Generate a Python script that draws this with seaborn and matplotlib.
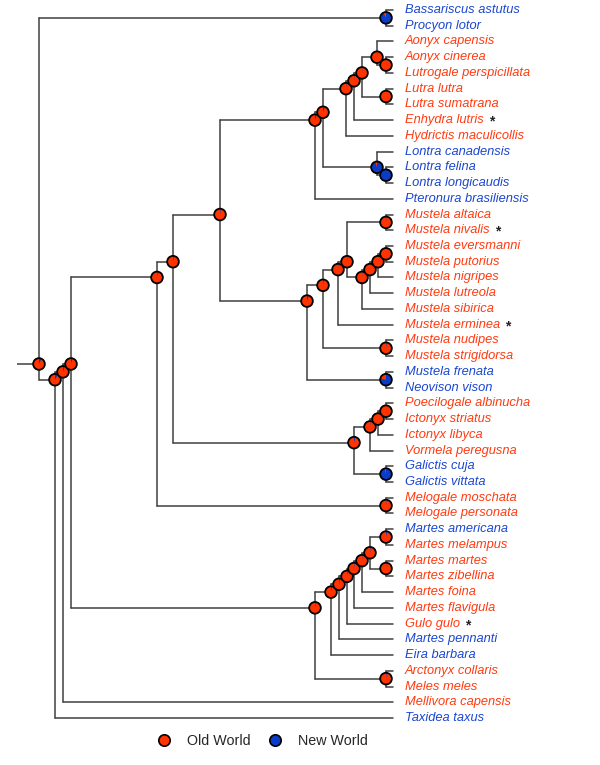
import matplotlib
matplotlib.use("Agg")
import matplotlib.pyplot as plt
import matplotlib.transforms as mtransforms
from matplotlib.patches import Circle, Wedge
from matplotlib.lines import Line2D
import seaborn as sns

sns.set_theme(style="white")
plt.rcParams["font.family"] = ["Liberation Sans", "DejaVu Sans"]

# tips, top to bottom
tips = [
    "Bassariscus astutus", "Procyon lotor", "Aonyx capensis", "Aonyx cinerea",
    "Lutrogale perspicillata", "Lutra lutra", "Lutra sumatrana", "Enhydra lutris",
    "Hydrictis maculicollis", "Lontra canadensis", "Lontra felina",
    "Lontra longicaudis", "Pteronura brasiliensis", "Mustela altaica",
    "Mustela nivalis", "Mustela eversmanni", "Mustela putorius", "Mustela nigripes",
    "Mustela lutreola", "Mustela sibirica", "Mustela erminea", "Mustela nudipes",
    "Mustela strigidorsa", "Mustela frenata", "Neovison vison",
    "Poecilogale albinucha", "Ictonyx striatus", "Ictonyx libyca",
    "Vormela peregusna", "Galictis cuja", "Galictis vittata", "Melogale moschata",
    "Melogale personata", "Martes americana", "Martes melampus", "Martes martes",
    "Martes zibellina", "Martes foina", "Martes flavigula", "Gulo gulo",
    "Martes pennanti", "Eira barbara", "Arctonyx collaris", "Meles meles",
    "Mellivora capensis", "Taxidea taxus",
]
tip_region = [
    "NW", "NW", "OW", "OW", "OW", "OW", "OW", "OW", "OW", "NW", "NW", "NW", "NW",
    "OW", "OW", "OW", "OW", "OW", "OW", "OW", "OW", "OW", "OW", "NW", "NW",
    "OW", "OW", "OW", "OW", "NW", "NW", "OW", "OW", "NW", "OW", "OW", "OW", "OW",
    "OW", "OW", "NW", "NW", "OW", "OW", "OW", "NW",
]
starred = ["Enhydra lutris", "Mustela nivalis", "Mustela erminea", "Gulo gulo"]

tip_depth = 393
root_stub = 17

# internal nodes: name, depth, children, share of New World at node
nodes = [
    ("root", 39, ["procyonid", "mustelid"], 0.07),
    ("procyonid", 386, ["Bassariscus astutus", "Procyon lotor"], 0.92),
    ("mustelid", 55, ["n63", "Taxidea taxus"], 0.08),
    ("n63", 63, ["n71", "Mellivora capensis"], 0.05),
    ("n71", 71, ["n157", "guloninae"], 0.04),
    ("n157", 157, ["n173", "melogale"], 0.02),
    ("n173", 173, ["n220", "ictonychinae"], 0.03),
    ("n220", 220, ["lutrinae", "mustela"], 0.02),
    ("lutrinae", 315, ["n323", "Pteronura brasiliensis"], 0.05),
    ("n323", 323, ["n346", "lontra"], 0.05),
    ("n346", 346, ["n354", "Hydrictis maculicollis"], 0.01),
    ("n354", 354, ["n362", "Enhydra lutris"], 0.01),
    ("n362", 362, ["n377", "lutra"], 0.01),
    ("n377", 377, ["Aonyx capensis", "aonyx"], 0.01),
    ("aonyx", 386, ["Aonyx cinerea", "Lutrogale perspicillata"], 0.0),
    ("lutra", 386, ["Lutra lutra", "Lutra sumatrana"], 0.0),
    ("lontra", 377, ["Lontra canadensis", "lontra2"], 0.95),
    ("lontra2", 386, ["Lontra felina", "Lontra longicaudis"], 1.0),
    ("mustela", 307, ["m323", "frenata"], 0.05),
    ("m323", 323, ["m338", "nudipes"], 0.02),
    ("m338", 338, ["m347", "Mustela erminea"], 0.01),
    ("m347", 347, ["altaica", "m362"], 0.01),
    ("altaica", 386, ["Mustela altaica", "Mustela nivalis"], 0.01),
    ("m362", 362, ["m370", "Mustela sibirica"], 0.01),
    ("m370", 370, ["m378", "Mustela lutreola"], 0.0),
    ("m378", 378, ["m386", "Mustela nigripes"], 0.0),
    ("m386", 386, ["Mustela eversmanni", "Mustela putorius"], 0.0),
    ("nudipes", 386, ["Mustela nudipes", "Mustela strigidorsa"], 0.02),
    ("frenata", 386, ["Mustela frenata", "Neovison vison"], 0.78),
    ("ictonychinae", 354, ["i370", "galictis"], 0.04),
    ("i370", 370, ["i378", "Vormela peregusna"], 0.01),
    ("i378", 378, ["i386", "Ictonyx libyca"], 0.0),
    ("i386", 386, ["Poecilogale albinucha", "Ictonyx striatus"], 0.0),
    ("galictis", 386, ["Galictis cuja", "Galictis vittata"], 0.96),
    ("melogale", 386, ["Melogale moschata", "Melogale personata"], 0.01),
    ("guloninae", 315, ["g331", "melinae"], 0.02),
    ("g331", 331, ["g339", "Eira barbara"], 0.03),
    ("g339", 339, ["g347", "Martes pennanti"], 0.03),
    ("g347", 347, ["g354", "Gulo gulo"], 0.02),
    ("g354", 354, ["g362", "Martes flavigula"], 0.02),
    ("g362", 362, ["g370", "Martes foina"], 0.01),
    ("g370", 370, ["martes_a", "martes_b"], 0.02),
    ("martes_a", 386, ["Martes americana", "Martes melampus"], 0.03),
    ("martes_b", 386, ["Martes martes", "Martes zibellina"], 0.01),
    ("melinae", 386, ["Arctonyx collaris", "Meles meles"], 0.02),
]

old_red = "#ff3300"
new_blue = "#0a3cc8"
text_red = "#ff3a10"
text_blue = "#1a46d0"
region_pal = sns.color_palette([old_red, new_blue])

# layout: x from depth, y = mean index of descendant tips
node_info = {n[0]: n for n in nodes}
pos = {}
for i, t in enumerate(tips):
    pos[t] = (tip_depth, i)


def tip_indices(name):
    if name not in node_info:
        return [pos[name][1]]
    out = []
    for c in node_info[name][2]:
        out += tip_indices(c)
    return out


for name, depth, children, share in nodes:
    idx = tip_indices(name)
    pos[name] = (depth, sum(idx) / len(idx))

fig = plt.figure(figsize=(6, 7.65), dpi=100)
ax = fig.add_axes([0, 0, 1, 1])
ax.set_xlim(0, 600)
ax.set_ylim((765 - 10) / 15.733, -10 / 15.733)
ax.axis("off")

lc = "#404040"
lw = 1.1

# branches
rx, ry = pos["root"]
ax.plot([root_stub, rx], [ry, ry], color=lc, lw=lw, solid_capstyle="butt", zorder=1)
for name, depth, children, share in nodes:
    x, y = pos[name]
    cys = [pos[c][1] for c in children]
    ax.plot([x, x], [min(cys), max(cys)], color=lc, lw=lw, zorder=1)
    for c in children:
        cx, cy = pos[c]
        ax.plot([x, cx], [cy, cy], color=lc, lw=lw, zorder=1)

# pies at nodes, in points around the data position
r_pt = 4.2
z = 2
for name, depth, children, share in nodes:
    x, y = pos[name]
    trans = mtransforms.Affine2D().scale(fig.dpi / 72.0) + \
        mtransforms.ScaledTranslation(x, y, ax.transData)
    ax.add_artist(Circle((0, 0), r_pt, facecolor=region_pal[1], edgecolor="none",
                         transform=trans, zorder=z))
    red = 1 - share
    if red >= 1:
        ax.add_artist(Circle((0, 0), r_pt, facecolor=region_pal[0],
                             edgecolor="none", transform=trans, zorder=z + 0.1))
    elif red > 0:
        ax.add_artist(Wedge((0, 0), r_pt, 90, 90 + 360 * red,
                            facecolor=region_pal[0], edgecolor="none",
                            transform=trans, zorder=z + 0.1))
    ax.add_artist(Circle((0, 0), r_pt, facecolor="none", edgecolor="black",
                         lw=1.3, transform=trans, zorder=z + 0.2))
    z += 1

# tip labels
labels = []
for i, t in enumerate(tips):
    col = text_red if tip_region[i] == "OW" else text_blue
    txt = ax.text(tip_depth + 12, i, t, fontsize=9.3, style="italic", color=col,
                  va="center", ha="left")
    labels.append(txt)

fig.canvas.draw()
renderer = fig.canvas.get_renderer()
inv = ax.transData.inverted()
for txt in labels:
    if txt.get_text() in starred:
        bb = txt.get_window_extent(renderer)
        x_end = inv.transform((bb.x1, bb.y0))[0]
        ax.text(x_end + 5, txt.get_position()[1] + 0.1, "*", fontsize=10,
                fontweight="bold", color="#222222", va="center", ha="left")

handles = [
    Line2D([], [], ls="none", marker="o", markersize=8.2, markerfacecolor=region_pal[0],
           markeredgecolor="black", markeredgewidth=1.2),
    Line2D([], [], ls="none", marker="o", markersize=8.2, markerfacecolor=region_pal[1],
           markeredgecolor="black", markeredgewidth=1.2),
]
fig.legend(handles, ["Old World", "New World"], loc="center",
           bbox_to_anchor=(0.437, 1 - 741 / 765), ncol=2, frameon=False,
           fontsize=10.3, handletextpad=1.1, columnspacing=1.2, handlelength=1.0)

fig.savefig("out.png", dpi=100, facecolor="white")
